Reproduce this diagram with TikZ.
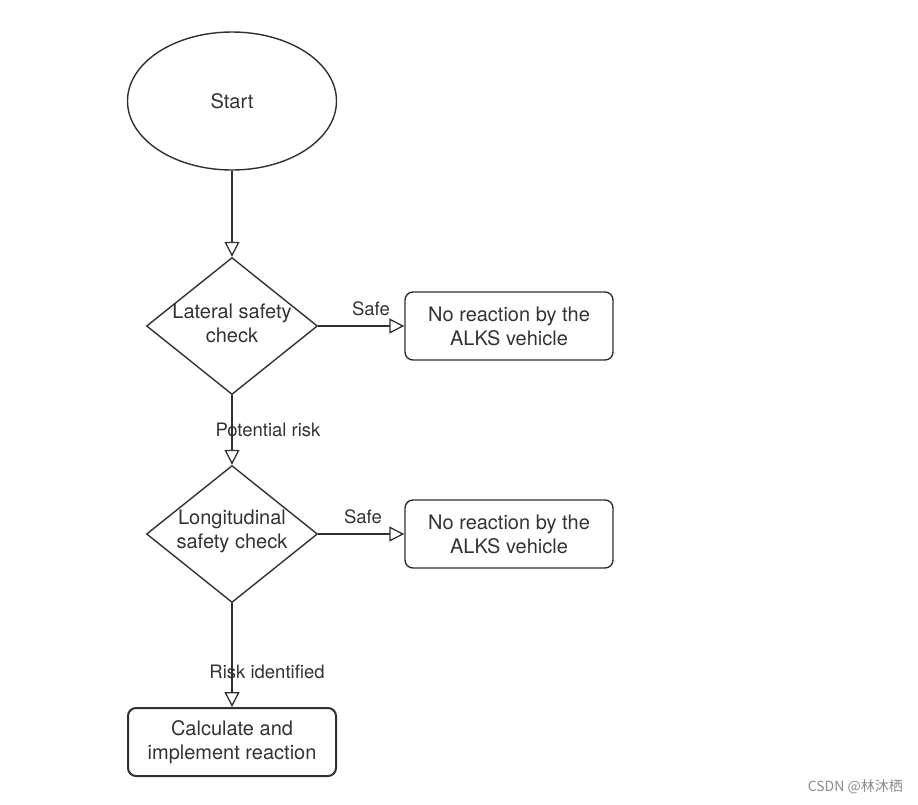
\documentclass[tikz,border=0pt]{standalone}
\usepackage{fontspec}
\setmainfont{TeX Gyre Heros}
\newfontfamily\cjkfont{Noto Sans CJK SC}
\usetikzlibrary{shapes.geometric,arrows.meta}
\definecolor{ln}{HTML}{303030}
\definecolor{tx}{HTML}{333333}
\tikzset{
  base/.style={draw=ln, line width=1.4pt, fill=white},
  startshape/.style={base, ellipse, minimum width=209pt, minimum height=138pt, inner sep=0pt},
  dia/.style={base, diamond, minimum width=171pt, minimum height=137pt, inner sep=0pt},
  box/.style={base, rounded corners=8pt, minimum width=208pt, minimum height=68pt, inner sep=0pt},
  txt/.style={text=tx, font=\fontsize{20}{24}\selectfont, align=center, inner sep=0pt},
  lbl/.style={text=tx, font=\fontsize{18.5}{22}\selectfont, inner sep=0pt},
  conn/.style={draw=ln, line width=1.4pt, -{Triangle[open, length=15pt, width=15pt, line width=1.3pt]}},
}
\begin{document}
\begin{tikzpicture}[x=1pt,y=-1pt]
\useasboundingbox[fill=white] (0,0) rectangle (918,804);
\node[startshape] (start) at (232,101) {};
\node[txt] at (start) {Start};
\node[dia] (d1) at (232,326) {};
\node[txt] at (232,323) {Lateral safety\\check};
\node[box] (b1) at (509,326) {};
\node[txt] at (b1) {No reaction by the\\ALKS vehicle};
\node[dia] (d2) at (232,534) {};
\node[txt] at (232,531) {Longitudinal\\safety check};
\node[box] (b2) at (509,534) {};
\node[txt] at (b2) {No reaction by the\\ALKS vehicle};
\node[box, line width=2pt] (b3) at (232,742) {};
\node[txt] at (b3) {Calculate and\\implement reaction};
\draw[conn] (start) -- (d1);
\draw[conn] (d1) -- (b1);
\draw[conn] (d1) -- (d2);
\draw[conn] (d2) -- (b2);
\draw[conn] (d2) -- (b3);
\node[lbl] (l1) at (371,309) {Safe};
\node[lbl] (l2) at (363,517) {Safe};
\node[lbl] (l3) at (268,430) {Potential risk};
\node[lbl] (l4) at (267,672) {Risk identified};
\node[text=black!45, font=\cjkfont\fontsize{14}{16}\selectfont, anchor=east, inner sep=0pt] (wm) at (903,787) {CSDN @林沐栖};
\end{tikzpicture}
\end{document}
